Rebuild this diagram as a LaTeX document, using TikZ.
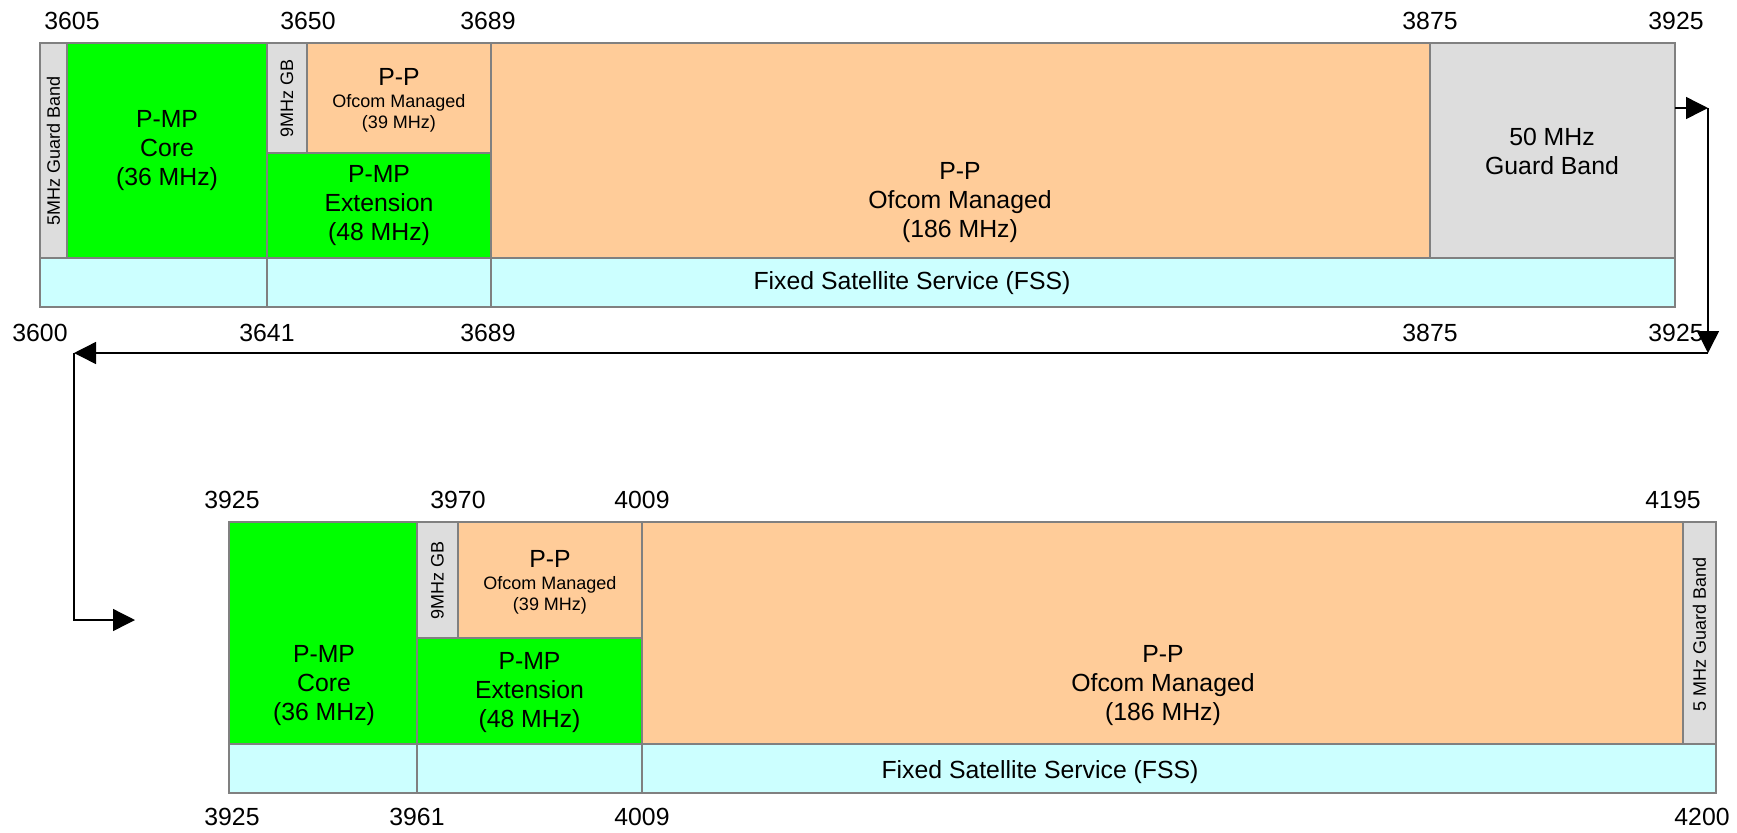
\documentclass[tikz,border=0pt]{standalone}
\usepackage{fontspec}
\setmainfont{Liberation Sans}
\usetikzlibrary{arrows.meta}

\tikzset{every picture/.style={line width=0.7pt}}
\tikzset{
  band/.style={draw={rgb, 255:red, 128; green, 128; blue, 128 }},
  pmp/.style={band, fill={rgb, 255:red, 0; green, 255; blue, 0 }},
  pp/.style={band, fill={rgb, 255:red, 255; green, 204; blue, 153 }},
  gb/.style={band, fill={rgb, 255:red, 221; green, 221; blue, 221 }},
  fss/.style={band, fill={rgb, 255:red, 204; green, 255; blue, 255 }},
  freq/.style={font=\fontsize{12.4}{14.5}\selectfont, inner sep=0.75pt},
  bandtext/.style={font=\fontsize{12.4}{14.5}\selectfont, align=center, inner sep=0.75pt},
  subtext/.style={font=\fontsize{9}{10.5}\selectfont, align=center, inner sep=0.75pt},
  wrap/.style={draw=black, -{Triangle[length=11pt,width=11pt]}}
}

\begin{document}
\begin{tikzpicture}[x=0.5pt,y=0.5pt,yscale=-1,xscale=1]
\useasboundingbox (0,0) rectangle (1737,832);

%Shape: Rectangle [upper band 3600-3925]
\draw [gb]  (40,43) rectangle (67,258) ;
\draw [pmp] (67,43) rectangle (267,258) ;
\draw [gb]  (267,43) rectangle (307,153) ;
\draw [pp]  (307,43) rectangle (491,153) ;
\draw [pmp] (267,153) rectangle (491,258) ;
\draw [pp]  (491,43) rectangle (1430,258) ;
\draw [gb]  (1430,43) rectangle (1675,258) ;
\draw [fss] (40,258) rectangle (267,307) ;
\draw [fss] (267,258) rectangle (491,307) ;
\draw [fss] (491,258) rectangle (1675,307) ;

%Shape: Rectangle [lower band 3925-4200]
\draw [pmp] (229,522) rectangle (417,744) ;
\draw [gb]  (417,522) rectangle (458,638) ;
\draw [pp]  (458,522) rectangle (642,638) ;
\draw [pmp] (417,638) rectangle (642,744) ;
\draw [pp]  (642,522) rectangle (1683,744) ;
\draw [gb]  (1683,522) rectangle (1716,744) ;
\draw [fss] (229,744) rectangle (417,793) ;
\draw [fss] (417,744) rectangle (642,793) ;
\draw [fss] (642,744) rectangle (1716,793) ;

%Straight Lines [wrap-around arrows]
\coordinate (outA) at (1675,108) ;
\coordinate (turnA) at (1708,108) ;
\coordinate (turnB) at (1708,353) ;
\coordinate (turnC) at (74,353) ;
\coordinate (turnD) at (74,620) ;
\coordinate (inB) at (135,620) ;
\draw [wrap] (outA) -- (turnA) ;
\draw [wrap] (turnA) -- (turnB) ;
\draw [wrap] (turnB) -- (turnC) ;
\draw [wrap] (turnC) -- (turnD) -- (inB) ;

% Text Node
\draw (53.5,151) node [rotate=90, subtext] (gbA) {5MHz Guard Band};
% Text Node
\draw (167,151) node [bandtext] (coreA) {P-MP\\Core\\(36 MHz)};
% Text Node
\draw (287,98) node [rotate=90, subtext] (gbnineA) {9MHz GB};
% Text Node
\draw (399,77) node [bandtext] (ppsmallA) {P-P};
% Text Node
\draw (399,113.5) node [subtext] (ppsmallsubA) {Ofcom Managed\\(39 MHz)};
% Text Node
\draw (379,206) node [bandtext] (extA) {P-MP\\Extension\\(48 MHz)};
% Text Node
\draw (960,203) node [bandtext] (ppbigA) {P-P\\Ofcom Managed\\(186 MHz)};
% Text Node
\draw (1552,151) node [bandtext] (gbfiftyA) {50 MHz\\Guard Band};
% Text Node
\draw (912,283) node [bandtext] (fssA) {Fixed Satellite Service (FSS)};

% Text Node
\draw (324,686) node [bandtext] (coreB) {P-MP\\Core\\(36 MHz)};
% Text Node
\draw (437.5,580) node [rotate=90, subtext] (gbnineB) {9MHz GB};
% Text Node
\draw (550,559) node [bandtext] (ppsmallB) {P-P};
% Text Node
\draw (550,595) node [subtext] (ppsmallsubB) {Ofcom Managed\\(39 MHz)};
% Text Node
\draw (529.5,693) node [bandtext] (extB) {P-MP\\Extension\\(48 MHz)};
% Text Node
\draw (1163,686) node [bandtext] (ppbigB) {P-P\\Ofcom Managed\\(186 MHz)};
% Text Node
\draw (1699.5,634) node [rotate=90, subtext] (gbB) {5 MHz Guard Band};
% Text Node
\draw (1040,772) node [bandtext] (fssB) {Fixed Satellite Service (FSS)};

% Text Node
\draw (72,21) node [freq] (tA3605) {3605};
\draw (308,21) node [freq] (tA3650) {3650};
\draw (488,21) node [freq] (tA3689) {3689};
\draw (1430,21) node [freq] (tA3875) {3875};
\draw (1676,21) node [freq] (tA3925) {3925};
% Text Node
\draw (40,333) node [freq] (bA3600) {3600};
\draw (267,333) node [freq] (bA3641) {3641};
\draw (488,333) node [freq] (bA3689) {3689};
\draw (1430,333) node [freq] (bA3875) {3875};
\draw (1676,333) node [freq] (bA3925) {3925};
% Text Node
\draw (232,500) node [freq] (tB3925) {3925};
\draw (458,500) node [freq] (tB3970) {3970};
\draw (642,500) node [freq] (tB4009) {4009};
\draw (1673,500) node [freq] (tB4195) {4195};
% Text Node
\draw (232,817) node [freq] (bB3925) {3925};
\draw (417,817) node [freq] (bB3961) {3961};
\draw (642,817) node [freq] (bB4009) {4009};
\draw (1702,817) node [freq] (bB4200) {4200};

\end{tikzpicture}
\end{document}
